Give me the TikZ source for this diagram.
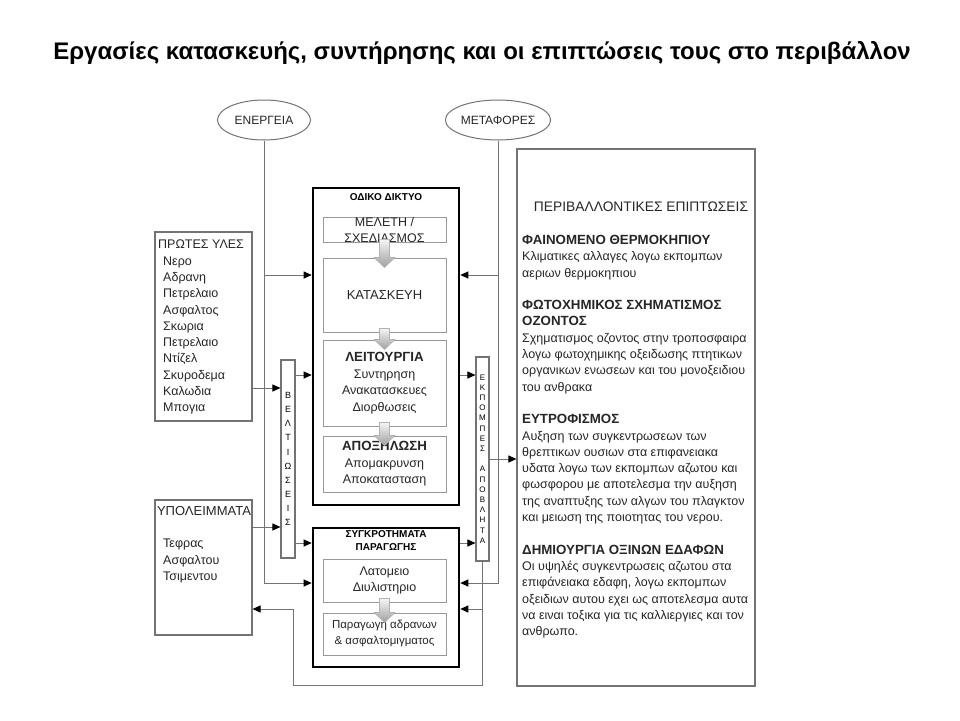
\documentclass[tikz,border=0pt]{standalone}
\usepackage{fontspec}
\setmainfont{Liberation Sans}
\usetikzlibrary{arrows.meta,positioning,shapes.geometric,calc}

\tikzset{
  frame/.style={draw=black!55, line width=1.1pt, inner sep=0pt},
  heavybox/.style={draw=black, line width=2.6pt, minimum width=146pt, inner sep=0pt},
  innerbox/.style={draw=black!40, line width=1pt, minimum width=123pt, inner sep=0pt,
    align=center, font=\fontsize{12.5}{16.5}\selectfont, text=black!85},
  oval/.style={ellipse, draw=black!55, line width=1pt, inner sep=0pt,
    font=\fontsize{12}{14}\selectfont, text=black!85},
  link/.style={draw=black!55, line width=1pt},
  arr/.style={link, -{Triangle[length=8pt,width=7pt,color=black]}},
  txt/.style={inner sep=0pt, align=left, font=\fontsize{12.5}{16.3}\selectfont, text=black!85},
  boxhead/.style={inner sep=0pt, align=center, font=\fontsize{10}{13}\selectfont\bfseries},
  flow/.style={top color=gray!8, bottom color=gray!75, draw=gray!60, line width=0.6pt}
}

% block arrow between two stacked boxes
\newcommand\flowarrow[2]{%
  \shade[flow] ($(#1.south)+(-5,-4)$) -- ($(#2.north)+(-5,0)$) -- ++(-5.5,0)
    -- ($(#2.north)+(0,10)$) -- ($(#2.north)+(10.5,0)$) -- ++(-5.5,0)
    -- ($(#1.south)+(5,-4)$) -- cycle;}
\newcommand\sechead[1]{{\fontsize{13.3}{16.3}\selectfont\bfseries #1}}

\begin{document}
\begin{tikzpicture}[x=1pt,y=-1pt]
  \fill[white] (0,0) rectangle (960,720);
  \useasboundingbox (0,0) rectangle (960,720);

  \node[font=\fontsize{24}{28}\selectfont\bfseries] (title) at (482,53)
    {Εργασίες κατασκευής, συντήρησης και οι επιπτώσεις τους στο περιβάλλον};

  % sources
  \node[oval, minimum width=93pt, minimum height=40pt] (energy) at (264,120) {ΕΝΕΡΓΕΙΑ};
  \node[oval, minimum width=103pt, minimum height=40pt] (transport) at (498,120) {ΜΕΤΑΦΟΡΕΣ};

  % left column
  \node[frame, minimum width=97pt, minimum height=189pt] (raw) at (203.5,326.5) {};
  \node[txt, anchor=west] (rawhead) at (158,244) {ΠΡΩΤΕΣ ΥΛΕΣ};
  \node[txt, anchor=west] (rawlist) at (163,335.5)
    {Νερο\\Αδρανη\\Πετρελαιο\\Ασφαλτος\\Σκωρια\\Πετρελαιο\\Ντίζελ\\Σκυροδεμα\\Καλωδια\\Μπογια};

  \node[frame, minimum width=97pt, minimum height=135pt] (residue) at (203.5,567.5) {};
  \node[txt, font=\fontsize{13}{16}\selectfont] (residuehead) at (204,511) {ΥΠΟΛΕΙΜΜΑΤΑ};
  \node[txt, anchor=west] (residuelist) at (163,561) {Τεφρας\\Ασφαλτου\\Τσιμεντου};

  \node[frame, minimum width=14pt, minimum height=198pt, align=center,
    font=\fontsize{9}{14.1}\selectfont] (improve) at (288,459)
    {Β\\Ε\\Λ\\Τ\\Ι\\Ω\\Σ\\Ε\\Ι\\Σ};

  % road network
  \node[heavybox, minimum height=317pt] (road) at (386,346.5) {};
  \node[boxhead, below=7pt of road.north] (roadhead) {ΟΔΙΚΟ ΔΙΚΤΥΟ};
  \node[innerbox, minimum height=24pt] (study) at (384.5,230) {ΜΕΛΕΤΗ /\\ΣΧΕΔΙΑΣΜΟΣ};
  \node[innerbox, minimum height=74pt, font=\fontsize{13}{16.5}\selectfont] (build) at (384.5,295) {ΚΑΤΑΣΚΕΥΗ};
  \node[innerbox, minimum height=86pt] (operate) at (384.5,383)
    {\sechead{ΛΕΙΤΟΥΡΓΙΑ}\\Συντηρηση\\Ανακατασκευες\\Διορθωσεις};
  \node[innerbox, minimum height=56pt] (remove) at (384.5,464)
    {\sechead{ΑΠΟΞΗΛΩΣΗ}\\Απομακρυνση\\Αποκατασταση};
  \flowarrow{study}{build}
  \flowarrow{build}{operate}
  \flowarrow{operate}{remove}

  % production plants
  \node[heavybox, minimum height=139pt] (prod) at (386,597.5) {};
  \node[boxhead, below=4pt of prod.north] (prodhead) {ΣΥΓΚΡΟΤΗΜΑΤΑ\\ΠΑΡΑΓΩΓΗΣ};
  \node[innerbox, minimum height=43pt] (quarry) at (384.5,580.5) {Λατομειο\\Διυλιστηριο};
  \node[innerbox, minimum height=42pt, font=\fontsize{11.5}{16}\selectfont] (mix) at (384.5,634)
    {Παραγωγη αδρανων\\\& ασφαλτομιγματος};
  \flowarrow{quarry}{mix}

  % emissions
  \node[frame, minimum width=13pt, minimum height=204pt, align=center,
    font=\fontsize{8}{10.2}\selectfont] (emit) at (482.5,459)
    {Ε\\Κ\\Π\\Ο\\Μ\\Π\\Ε\\Σ\\[10.2pt]Α\\Π\\Ο\\Β\\Λ\\Η\\Τ\\Α};

  % environmental impacts
  \node[frame, minimum width=238pt, minimum height=537pt] (env) at (636,417.5) {};
  \node[txt, font=\fontsize{13.8}{16}\selectfont] (envhead) at (641,207) {ΠΕΡΙΒΑΛΛΟΝΤΙΚΕΣ ΕΠΙΠΤΩΣΕΙΣ};
  \node[txt, anchor=north west] (envtext) at (522,235)
    {\sechead{ΦΑΙΝΟΜΕΝΟ ΘΕΡΜΟΚΗΠΙΟΥ}\\
     Κλιματικες αλλαγες λογω εκπομπων\\
     αεριων θερμοκηπιου\\[16.3pt]
     \sechead{ΦΩΤΟΧΗΜΙΚΟΣ ΣΧΗΜΑΤΙΣΜΟΣ}\\
     \sechead{ΟΖΟΝΤΟΣ}\\
     Σχηματισμος οζοντος στην τροποσφαιρα\\
     λογω φωτοχημικης οξειδωσης πτητικων\\
     οργανικων ενωσεων και του μονοξειδιου\\
     του ανθρακα\\[16.3pt]
     \sechead{ΕΥΤΡΟΦΙΣΜΟΣ}\\
     Αυξηση των συγκεντρωσεων των\\
     θρεπτικων ουσιων στα επιφανειακα\\
     υδατα λογω των εκπομπων αζωτου και\\
     φωσφορου με αποτελεσμα την αυξηση\\
     της αναπτυξης των αλγων του πλαγκτον\\
     και μειωση της ποιοτητας του νερου.\\[16.3pt]
     \sechead{ΔΗΜΙΟΥΡΓΙΑ ΟΞΙΝΩΝ ΕΔΑΦΩΝ}\\
     Οι υψηλές συγκεντρωσεις αζωτου στα\\
     επιφάνειακα εδαφη, λογω εκπομπων\\
     οξειδιων αυτου εχει ως αποτελεσμα αυτα\\
     να ειναι τοξικα για τις καλλιεργιες και τον\\
     ανθρωπο.};

  % connectors
  \draw[arr] (energy.south) |- (prod.west |- 0,583);
  \draw[arr] (energy.south |- 0,275) -- (road.west |- 0,275);
  \draw[arr] (transport.south) |- (prod.east |- 0,583);
  \draw[arr] (transport.south |- 0,275) -- (road.east |- 0,275);

  \draw[arr] (raw.east |- 0,388) -- (improve.west |- 0,388);
  \draw[arr] (improve.east |- 0,375) -- (road.west |- 0,375);
  \draw[arr] (residue.east |- 0,527) -- (improve.west |- 0,527);
  \draw[arr] (improve.east |- 0,543) -- (prod.west |- 0,543);

  \draw[arr] (road.east |- 0,375) -- (emit.west |- 0,375);
  \draw[arr] (prod.east |- 0,543) -- (emit.west |- 0,543);
  \draw[arr] (emit.east |- 0,459) -- (env.west |- 0,459);

  \coordinate (backturn) at (emit.south |- 0,685);
  \coordinate (backup) at (293,685);
  \draw[arr] (emit.south) |- (prod.east |- 0,609);
  \draw[arr] (emit.south) -- (backturn) -- (backup) |- (residue.east |- 0,609);
\end{tikzpicture}
\end{document}
